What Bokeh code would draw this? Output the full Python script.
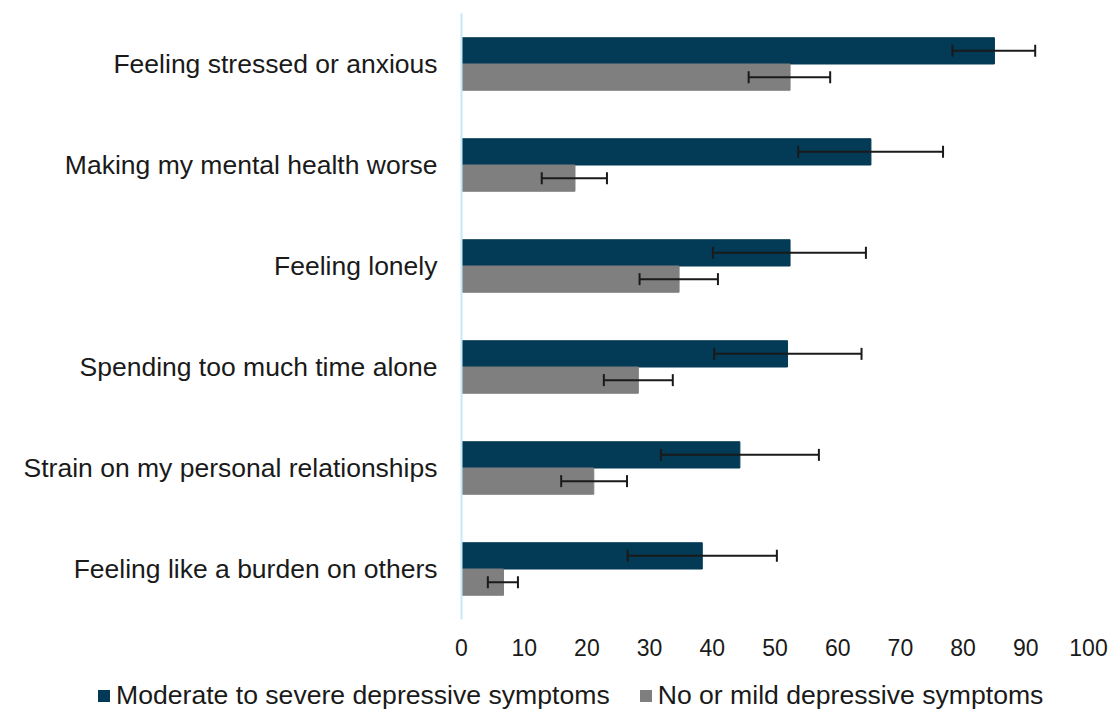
from bokeh.plotting import figure
from bokeh.layouts import column
from bokeh.models import (ColumnDataSource, FactorRange, Whisker, TeeHead,
                          Legend, LegendItem, FixedTicker)
from bokeh.transform import dodge
from bokeh.embed import file_html
from bokeh.resources import INLINE

categories = [
    "Feeling stressed or anxious",
    "Making my mental health worse",
    "Feeling lonely",
    "Spending too much time alone",
    "Strain on my personal relationships",
    "Feeling like a burden on others",
]
severe = [85.0, 65.3, 52.4, 52.0, 44.4, 38.4]
severe_lo = [78.3, 53.7, 40.1, 40.3, 31.8, 26.5]
severe_hi = [91.5, 76.8, 64.5, 63.8, 57.0, 50.3]
mild = [52.4, 18.1, 34.7, 28.2, 21.1, 6.7]
mild_lo = [45.8, 12.8, 28.4, 22.7, 15.9, 4.2]
mild_hi = [58.8, 23.2, 40.9, 33.7, 26.4, 9.0]
series_names = ["Moderate to severe depressive symptoms", "No or mild depressive symptoms"]
x_ticks = [0, 10, 20, 30, 40, 50, 60, 70, 80, 90, 100]

DARK = "#033a56"
GREY = "#7f7f7f"
TEXT = "#1a1a1a"
FONT = "Liberation Sans"

src = ColumnDataSource(dict(
    cat=categories,
    severe=severe, severe_lo=severe_lo, severe_hi=severe_hi,
    mild=mild, mild_lo=mild_lo, mild_hi=mild_hi,
))

p = figure(
    width=1112, height=680,
    y_range=FactorRange(factors=list(reversed(categories))),
    x_range=(0, 100),
    output_backend="svg", toolbar_location=None,
    min_border_left=461, min_border_right=24,
    min_border_top=13, min_border_bottom=61,
)
p.outline_line_color = None
p.xgrid.visible = False
p.ygrid.visible = False

off = 0.13
bh = 0.26
p.hbar(y=dodge("cat", off, range=p.y_range), right="severe", left=0,
       height=bh, source=src, fill_color=DARK, line_color=DARK)
p.hbar(y=dodge("cat", -off, range=p.y_range), right="mild", left=0,
       height=bh, source=src, fill_color=GREY, line_color=GREY)

# confidence intervals drawn on top of the bars
for o, lo, hi in [(off, "severe_lo", "severe_hi"), (-off, "mild_lo", "mild_hi")]:
    w = Whisker(
        base=dodge("cat", o, range=p.y_range), lower=lo, upper=hi,
        dimension="width", source=src, level="overlay",
        line_color=TEXT, line_width=2,
        upper_head=TeeHead(size=12, line_color=TEXT, line_width=2),
        lower_head=TeeHead(size=12, line_color=TEXT, line_width=2),
    )
    p.add_layout(w)

# axes
p.xaxis.ticker = FixedTicker(ticks=x_ticks)
p.xaxis.axis_line_color = None
p.xaxis.major_tick_line_color = None
p.xaxis.minor_tick_line_color = None
p.xaxis.major_label_text_font = FONT
p.xaxis.major_label_text_font_size = "23px"
p.xaxis.major_label_text_color = TEXT
p.xaxis.major_label_standoff = 13

p.yaxis.axis_line_color = "#c6e9f8"
p.yaxis.axis_line_width = 2
p.yaxis.major_tick_line_color = None
p.yaxis.minor_tick_line_color = None
p.yaxis.major_label_text_font = FONT
p.yaxis.major_label_text_font_size = "26.5px"
p.yaxis.major_label_text_color = TEXT
p.yaxis.major_label_standoff = 18

# legend strip under the chart (its own full-width frame)
leg = figure(
    width=1112, height=31, x_range=(0, 1), y_range=(0, 1),
    output_backend="svg", toolbar_location=None,
    x_axis_type=None, y_axis_type=None, min_border=0,
)
leg.frame_align = False
leg.outline_line_color = None
leg.xgrid.visible = False
leg.ygrid.visible = False
# zero-size key swatches: only their colours are used by the legend
key_src = ColumnDataSource(dict(y=[0], left=[0], right=[0]))
k_sev = leg.hbar(y="y", left="left", right="right", height=0, source=key_src,
                 fill_color=DARK, line_color=None)
k_mild = leg.hbar(y="y", left="left", right="right", height=0, source=key_src,
                  fill_color=GREY, line_color=None)

legend = Legend(
    items=[LegendItem(label=series_names[0], renderers=[k_sev]),
           LegendItem(label=series_names[1], renderers=[k_mild])],
    orientation="horizontal", location=(96, 0),
    padding=0, margin=0, spacing=28, label_standoff=5,
    glyph_width=15, glyph_height=15,
    border_line_color=None, background_fill_alpha=0,
    label_text_font=FONT, label_text_font_size="26.6px",
    label_text_color=TEXT,
)
leg.add_layout(legend, "center")

layout = column(p, leg, spacing=0)
open("out.html", "w").write(file_html(layout, INLINE))
